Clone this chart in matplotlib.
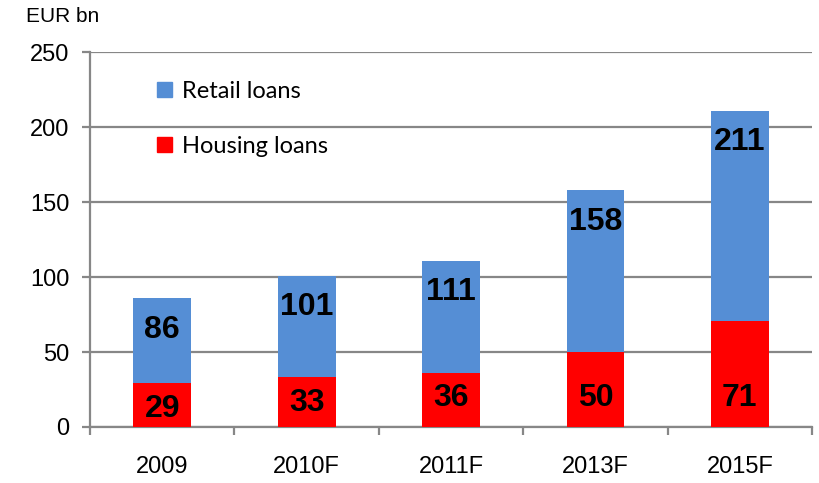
import matplotlib
matplotlib.use('Agg')
import matplotlib.pyplot as plt
import numpy as np
from matplotlib.patches import Patch

# data
years = ['2009', '2010F', '2011F', '2013F', '2015F']
retail = [86, 101, 111, 158, 211]
housing = [29, 33, 36, 50, 71]

blue = '#558ED5'
red = '#FF0000'
grey = '#878787'

plt.rcParams['font.family'] = ['Liberation Sans', 'DejaVu Sans']

fig = plt.figure(figsize=(8.2, 4.83), dpi=100)
ax = fig.add_axes([0.1098, 0.116, 0.8805, 0.776])

x = np.arange(len(years))
w = 0.4
ax.bar(x, retail, width=w, color=blue, zorder=2)  # retail total behind
ax.bar(x, housing, width=w, color=red, zorder=3)  # housing in front

for i in x:
    ax.text(i, retail[i] - 21, str(retail[i]), ha='center', va='center',
            fontsize=23, fontweight='bold', zorder=4)
    ax.text(i, min(housing[i] - 17, 19), str(housing[i]), ha='center', va='center',
            fontsize=23, fontweight='bold', zorder=4)

ax.set_ylim(0, 250)
ax.set_xlim(-0.5, len(years) - 0.5)
ax.set_yticks(range(0, 251, 50))
ax.yaxis.grid(True, color=grey, linewidth=1.6, zorder=0)
ax.set_axisbelow(True)

ax.set_xticks(x)
ax.set_xticklabels(years)
ax.set_xticks(np.arange(-0.5, len(years)), minor=True)
ax.tick_params(axis='x', which='major', length=0, pad=21, labelsize=17)
ax.tick_params(axis='x', which='minor', length=6, width=1.6, color=grey, direction='out')
ax.tick_params(axis='y', length=6, width=1.6, color=grey, pad=9, labelsize=17)

for s in ['top', 'right']:
    ax.spines[s].set_visible(False)
for s in ['left', 'bottom']:
    ax.spines[s].set_color(grey)
    ax.spines[s].set_linewidth(1.6)

fig.text(0.032, 0.965, 'EUR bn', fontsize=15, ha='left', va='center')

handles = [Patch(color=blue, label='Retail loans'), Patch(color=red, label='Housing loans')]
ax.legend(handles=handles, loc='upper left', bbox_to_anchor=(0.064, 0.98), frameon=False,
          prop={'family': 'Lato', 'size': 17}, handlelength=0.62, handleheight=0.62,
          handletextpad=0.4, labelspacing=1.45)

fig.savefig('out.png', dpi=100)
